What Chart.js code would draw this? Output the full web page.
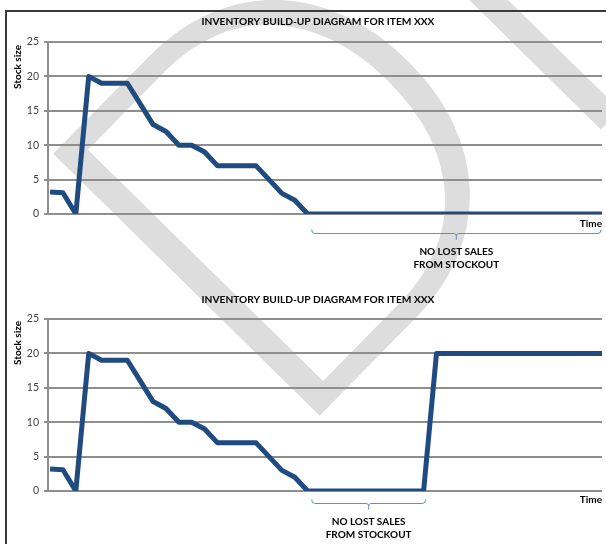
<!DOCTYPE html>
<html>
<head>
<meta charset="utf-8">
<script src="https://cdn.jsdelivr.net/npm/chart.js@4/dist/chart.umd.min.js"></script>
<style>
  html, body { margin: 0; padding: 0; background: #fff; }
  body { width: 606px; height: 544px; position: relative; overflow: hidden; }
  #frame { position: absolute; left: 5px; top: 10px; width: 601px; height: 534px;
           border-top: 2px solid #3a3a3a; border-left: 2px solid #3a3a3a; box-sizing: border-box; }
  canvas { position: absolute; left: 0; }
  #bg { top: 0; }
  #c1 { top: 0; }
  #c2 { top: 280px; }
</style>
</head>
<body>
<canvas id="bg" width="606" height="544"></canvas>
<div id="frame"></div>
<canvas id="c1" width="606" height="280"></canvas>
<canvas id="c2" width="606" height="264"></canvas>
<script>
// Time periods along the x axis (no labels are printed on the axis)
const periods = [1, 2, 3, 4, 5, 6, 7, 8, 9, 10, 11, 12, 13, 14, 15, 16, 17, 18, 19, 20, 21, 22,
                 23, 24, 25, 26, 27, 28, 29, 30, 31, 32, 33, 34, 35, 36, 37, 38, 39, 40, 41, 42, 43, 44];

// Stock on hand per period, upper diagram: stock runs out and stays at zero
const stockNoReorder = [3.2, 3.1, 0, 20, 19, 19, 19, 16, 13, 12, 10, 10, 9, 7, 7, 7, 7, 5, 3, 2, 0,
                        0, 0, 0, 0, 0, 0, 0, 0, 0, 0, 0, 0, 0, 0, 0, 0, 0, 0, 0, 0, 0, 0, 0];

// Stock on hand per period, lower diagram: replenished back to 20
const stockWithReorder = [3.2, 3.1, 0, 20, 19, 19, 19, 16, 13, 12, 10, 10, 9, 7, 7, 7, 7, 5, 3, 2, 0,
                          0, 0, 0, 0, 0, 0, 0, 0, 0, 20, 20, 20, 20, 20, 20, 20, 20, 20, 20, 20, 20, 20, 20];

const yTicks = [0, 5, 10, 15, 20, 25];

const chartTitle = 'INVENTORY BUILD-UP DIAGRAM FOR ITEM XXX';
const yTitle = 'Stock size';
const xTitle = 'Time';
const noteLines = ['NO LOST SALES', 'FROM STOCKOUT'];
const stampText = 'DRAFT';

// Zero-stock stretch marked by the bracket, as periods
const bracketUpper = [21, 44];
const bracketLower = [21, 30];

const FONT = 'Lato, "Open Sans", "Liberation Sans", sans-serif';
const LINE = '#1f4b80';
const GRID = '#8e8e8e';
const BRACE = '#5f8fd2';

// Light grey "DRAFT" stamp behind both diagrams
(function drawStamp() {
  const ctx = document.getElementById('bg').getContext('2d');
  ctx.save();
  ctx.fillStyle = '#dddddd';
  ctx.font = '300 528px Lato, "Open Sans", sans-serif';
  ctx.textAlign = 'left';
  ctx.textBaseline = 'alphabetic';
  ctx.translate(281, 455);
  ctx.rotate(-45.5 * Math.PI / 180);
  ctx.fillText(stampText, 0, 0);
  ctx.restore();
})();

const notesPlugin = {
  id: 'notes',
  afterDraw(chart, args, o) {
    const { ctx, chartArea, scales } = chart;
    const xs = scales.x;
    ctx.save();
    // title
    ctx.fillStyle = '#000';
    ctx.font = 'bold 10.2px ' + FONT;
    ctx.textAlign = 'center';
    ctx.textBaseline = 'middle';
    ctx.fillText(chartTitle, o.titleX, o.titleY);
    ctx.font = 'bold 10px ' + FONT;
    // y axis title
    ctx.save();
    ctx.translate(18, chartArea.top + o.yTitleOffset);
    ctx.rotate(-Math.PI / 2);
    ctx.fillText(yTitle, 0, 0);
    ctx.restore();
    // x axis title
    ctx.textAlign = 'right';
    ctx.fillText(xTitle, chartArea.right, chartArea.bottom + o.xTitleOffset);
    // bracket under the zero-stock stretch
    const xa = Math.min(xs.getPixelForValue(o.bracket[0]) + o.bracketInset[0], chartArea.right - 1);
    const xb = Math.min(xs.getPixelForValue(o.bracket[1]) + o.bracketInset[1], chartArea.right - 1);
    const yb = chartArea.bottom + o.bracketGap;
    const xm = (xa + xb) / 2;
    ctx.strokeStyle = BRACE;
    ctx.lineWidth = 1;
    ctx.beginPath();
    ctx.moveTo(xa, yb - 4);
    ctx.quadraticCurveTo(xa, yb, xa + 3, yb);
    ctx.lineTo(xm - 2, yb);
    ctx.quadraticCurveTo(xm, yb, xm, yb + 3);
    ctx.lineTo(xm, yb + 6);
    ctx.moveTo(xm, yb + 3);
    ctx.quadraticCurveTo(xm, yb, xm + 2, yb);
    ctx.lineTo(xb - 3, yb);
    ctx.quadraticCurveTo(xb, yb, xb, yb - 4);
    ctx.stroke();
    ctx.fillStyle = '#000';
    ctx.textAlign = 'center';
    ctx.fillText(noteLines[0], xm, yb + 18.5);
    ctx.fillText(noteLines[1], xm, yb + 31.5);
    ctx.restore();
  }
};

function makeChart(id, values, pad, notes) {
  return new Chart(document.getElementById(id), {
    type: 'line',
    data: {
      datasets: [{
        data: values.map((v, i) => ({ x: periods[i], y: v })),
        borderColor: LINE,
        borderWidth: 5,
        pointRadius: 0,
        tension: 0,
        borderJoinStyle: 'round',
        borderCapStyle: 'butt',
        fill: false
      }]
    },
    options: {
      responsive: false,
      animation: false,
      events: [],
      layout: { padding: pad },
      plugins: { legend: { display: false }, title: { display: false }, tooltip: { enabled: false }, notes },
      scales: {
        x: { type: 'linear', display: false, min: 0.84, max: 43.85 },
        y: {
          min: 0, max: 25,
          afterBuildTicks(scale) { scale.ticks = yTicks.map(v => ({ value: v })); },
          afterFit(scale) { scale.width = 48; },
          ticks: { color: '#404040', font: { family: FONT, size: 10.5 }, padding: 5 },
          grid: { color: GRID, lineWidth: 2, tickLength: 4, drawTicks: true },
          border: { display: true, color: GRID, width: 2 }
        }
      }
    },
    plugins: [notesPlugin]
  });
}

makeChart('c1', stockNoReorder,
  { left: 0, right: 4, top: 42, bottom: 66 },
  { titleX: 318, titleY: 22, yTitleOffset: 25, xTitleOffset: 10, bracket: bracketUpper,
    bracketInset: [4, 0], bracketGap: 19.5 });

makeChart('c2', stockWithReorder,
  { left: 0, right: 4, top: 39, bottom: 53 },
  { titleX: 318, titleY: 20, yTitleOffset: 24, xTitleOffset: 9, bracket: bracketLower,
    bracketInset: [4, 2], bracketGap: 12.5 });
</script>
</body>
</html>
